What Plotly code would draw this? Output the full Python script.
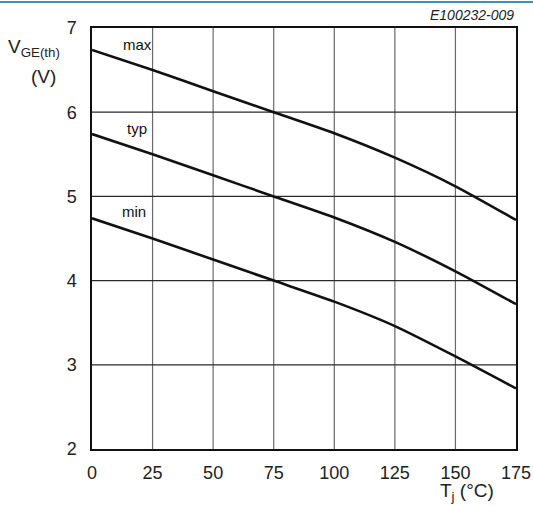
import plotly.graph_objects as go

# Gate-emitter threshold voltage vs junction temperature
tj = [0, 25, 50, 75, 100, 125, 150, 175]
vge_max = [6.74, 6.50, 6.25, 6.00, 5.75, 5.46, 5.12, 4.72]
vge_typ = [5.74, 5.50, 5.25, 5.00, 4.75, 4.46, 4.11, 3.72]
vge_min = [4.74, 4.50, 4.25, 4.00, 3.75, 3.46, 3.10, 2.72]
curve_names = ["max", "typ", "min"]
x_ticks = [0, 25, 50, 75, 100, 125, 150, 175]
y_ticks = [2, 3, 4, 5, 6, 7]

W, H = 533, 506
L, R, T, B = 92, 17, 28, 57
FONT = "Liberation Sans, Arial, sans-serif"
pw, ph = W - L - R, H - T - B


def px_x(v):
    return (v - L) / pw


def px_y(v):
    return 1 - (v - T) / ph


fig = go.Figure()
for ys in (vge_max, vge_typ, vge_min):
    fig.add_trace(go.Scatter(
        x=tj, y=ys, mode="lines",
        line=dict(color="#111111", width=2.6, shape="spline", smoothing=0.6),
        showlegend=False, hoverinfo="skip",
    ))

# vertical grid lines (lighter) and horizontal grid lines (darker)
for xv in x_ticks[1:-1]:
    fig.add_shape(type="line", xref="x", yref="y", x0=xv, x1=xv, y0=2, y1=7,
                  line=dict(color="#6a6a6a", width=1.2), layer="below")
for yv in y_ticks[1:-1]:
    fig.add_shape(type="line", xref="x", yref="y", x0=0, x1=175, y0=yv, y1=yv,
                  line=dict(color="#2a2a2a", width=1.2), layer="below")

# curve labels
for name, xa, ya in zip(curve_names, [18.6, 18.6, 17.4], [6.80, 5.81, 4.82]):
    fig.add_annotation(x=xa, y=ya, xref="x", yref="y", text=name, showarrow=False,
                       xanchor="center", yanchor="middle",
                       font=dict(family=FONT, size=15, color="#111111"))

# drawing reference code
fig.add_annotation(x=1, y=1, xref="paper", yref="paper", xanchor="right", yanchor="bottom",
                   yshift=3, text="<i>E100232-009</i>", showarrow=False,
                   font=dict(family=FONT, size=14, color="#222222"))

# axis titles
for txt, xp, yp in [("V<sub>GE(th)</sub>", 34, 48), ("(V)", 43, 76),
                    ("T<sub>j</sub> (°C)", 467, 492)]:
    fig.add_annotation(x=px_x(xp), y=px_y(yp), xref="paper", yref="paper", text=txt,
                       xanchor="center", yanchor="middle", showarrow=False,
                       font=dict(family=FONT, size=19, color="#222222"))

# thin teal rule across the top of the page
fig.add_shape(type="line", xref="paper", yref="paper",
              x0=px_x(0), x1=px_x(W), y0=px_y(2), y1=px_y(2),
              line=dict(color="#3b93b3", width=2))

fig.update_xaxes(range=[0, 175], tickvals=x_ticks, showgrid=False, zeroline=False,
                 showline=True, linecolor="#111111", linewidth=1.5, mirror=True,
                 ticks="", ticklabelstandoff=7, automargin=False,
                 tickfont=dict(family=FONT, size=18, color="#222222"))
fig.update_yaxes(range=[2, 7], tickvals=y_ticks, showgrid=False, zeroline=False,
                 showline=True, linecolor="#111111", linewidth=1.5, mirror=True,
                 ticks="", ticklabelstandoff=10, automargin=False,
                 tickfont=dict(family=FONT, size=18, color="#222222"))

fig.update_layout(width=W, height=H, margin=dict(l=L, r=R, t=T, b=B),
                  plot_bgcolor="white", paper_bgcolor="white")

fig.write_html("out.html")
